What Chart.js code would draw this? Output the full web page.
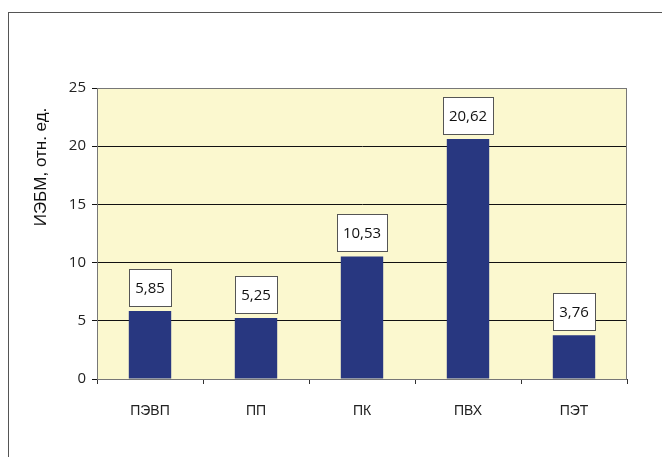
<!DOCTYPE html>
<html>
<head>
<meta charset="utf-8">
<script src="https://cdn.jsdelivr.net/npm/chart.js@4/dist/chart.umd.min.js"></script>
<style>
  html, body { margin: 0; padding: 0; background: #fff; }
  #wrap { position: relative; width: 662px; height: 457px; }
</style>
</head>
<body>
<div id="wrap"><canvas id="c" width="662" height="457"></canvas></div>
<script>
const categories = ['ПЭВП', 'ПП', 'ПК', 'ПВХ', 'ПЭТ']
const values     = [5.85, 5.25, 10.53, 20.62, 3.76]
const valueText  = ['5,85', '5,25', '10,53', '20,62', '3,76']
const yTitle     = 'ИЭБМ, отн. ед.'

const FONT  = "'Open Sans', 'Noto Sans', sans-serif"
const FONT2 = "'Liberation Sans', Arial, sans-serif"

// yellow plot background + plot border + outer frame + axis title
const backdrop = {
  id: 'backdrop',
  beforeDraw(chart) {
    const { ctx, chartArea: a } = chart
    ctx.save()
    ctx.fillStyle = '#fbf8cf'
    ctx.fillRect(a.left, a.top, a.right - a.left, a.bottom - a.top)
    ctx.strokeStyle = '#555'
    ctx.lineWidth = 1
    ctx.strokeRect(8.5, 12.5, 800, 600)
    ctx.restore()
  },
  afterDraw(chart) {
    const { ctx, chartArea: a } = chart
    ctx.save()
    ctx.strokeStyle = '#777'
    ctx.lineWidth = 1
    ctx.strokeRect(a.left + 0.5, a.top + 0.5, a.right - a.left - 1, a.bottom - a.top)
    ctx.translate(41, 167)
    ctx.rotate(-Math.PI / 2)
    ctx.fillStyle = '#111'
    ctx.font = '17px ' + FONT2
    ctx.textAlign = 'center'
    ctx.textBaseline = 'middle'
    ctx.fillText(yTitle, 0, 0)
    ctx.restore()
  },
}

// boxed value labels above bars
const boxLabels = {
  id: 'boxLabels',
  afterDatasetsDraw(chart) {
    const { ctx } = chart
    const meta = chart.getDatasetMeta(0)
    ctx.save()
    ctx.font = '15px ' + FONT
    ctx.textAlign = 'center'
    ctx.textBaseline = 'middle'
    meta.data.forEach((bar, i) => {
      const t = valueText[i]
      const w = Math.round(ctx.measureText(t).width + 12)
      const h = 37
      const x = Math.round(bar.x - w / 2) + 0.5
      const y = Math.round(bar.y - 5 - h) + 0.5
      ctx.fillStyle = '#fff'
      ctx.fillRect(x, y, w, h)
      ctx.strokeStyle = '#555'
      ctx.lineWidth = 1
      ctx.strokeRect(x, y, w, h)
      ctx.fillStyle = '#111'
      ctx.fillText(t, bar.x, y + h / 2 + 1)
    })
    ctx.restore()
  },
}

new Chart(document.getElementById('c'), {
  type: 'bar',
  data: {
    labels: categories,
    datasets: [{
      data: values,
      backgroundColor: '#283780',
      borderWidth: 0,
      categoryPercentage: 0.8,
      barPercentage: 0.5,
    }],
  },
  options: {
    responsive: false,
    animation: false,
    events: [],
    layout: { padding: { left: 0, top: 88, right: 35, bottom: 0 } },
    plugins: { legend: { display: false }, tooltip: { enabled: false } },
    scales: {
      x: {
        afterFit: s => { s.height = 78 },
        grid: { drawOnChartArea: false, drawTicks: true, tickLength: 5, color: '#333', offset: true },
        border: { color: '#333' },
        ticks: { color: '#222', padding: 19, font: { family: FONT2, size: 14 } },
      },
      y: {
        min: 0, max: 25,
        afterFit: s => { s.width = 97 },
        grid: { color: '#111', tickLength: 5, drawTicks: true },
        border: { color: '#333' },
        ticks: { stepSize: 5, color: '#222', padding: 6, font: { family: FONT, size: 15 } },
      },
    },
  },
  plugins: [backdrop, boxLabels],
})
</script>
</body>
</html>
